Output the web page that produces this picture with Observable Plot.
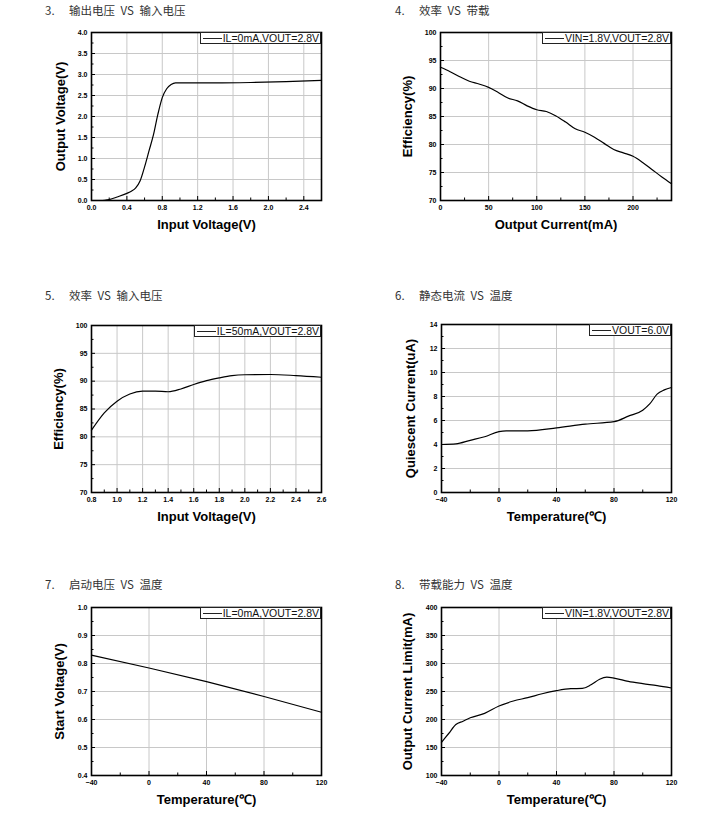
<!DOCTYPE html>
<html><head><meta charset="utf-8">
<script src="https://cdn.jsdelivr.net/npm/d3@7"></script>
<script src="https://cdn.jsdelivr.net/npm/@observablehq/plot@0.6"></script>
<style>
body{margin:0;background:#fff;}
#root{position:relative;width:723px;height:836px;overflow:hidden;font-family:"Liberation Sans",Arial,sans-serif;}
.title{position:absolute;font-family:"Noto Sans CJK SC",sans-serif;font-size:11.5px;color:#333;line-height:14px;white-space:pre;word-spacing:3px;}
.legend{position:absolute;box-sizing:border-box;border:1px solid #222;background:#fff;font-size:10.5px;height:12px;display:flex;align-items:center;padding:0 1px 0 2px;white-space:nowrap;color:#111;}
.legend .sw{display:inline-block;width:19px;border-top:1.4px solid #222;margin-right:1px;}
svg{position:absolute;}
</style></head><body><div id="root"></div><script>
// ---- Chart 3: Output voltage vs input voltage ----
const c3Vin  = [0,0.1,0.15,0.2,0.3,0.4,0.45,0.5,0.55,0.6,0.65,0.7,0.75,0.8,0.85,0.9,0.95,1.0,1.4,1.8,2.2,2.6];
const c3Vout = [0,0,0.005,0.02,0.09,0.17,0.22,0.3,0.47,0.8,1.18,1.56,2.05,2.45,2.66,2.76,2.8,2.8,2.8,2.81,2.83,2.86];
// ---- Chart 4: Efficiency vs load ----
const c4Iout = [0,10,20,30,40,50,60,70,80,90,100,110,120,130,140,150,160,170,180,190,200,210,220,230,240];
const c4Eff  = [93.8,93.0,92.1,91.3,90.8,90.2,89.3,88.3,87.8,86.9,86.2,85.9,85.1,84.0,82.8,82.2,81.3,80.2,79.1,78.5,77.9,76.8,75.5,74.2,73.0];
// ---- Chart 5: Efficiency vs input voltage ----
const c5Vin = [0.8,0.9,1.0,1.1,1.2,1.3,1.4,1.5,1.6,1.7,1.8,1.9,2.0,2.2,2.4,2.6];
const c5Eff = [81.2,84.3,86.4,87.7,88.2,88.2,88.1,88.6,89.4,90.1,90.6,91.0,91.15,91.2,91.0,90.7];
// ---- Chart 6: Quiescent current vs temperature ----
const c6Temp = [-40,-30,-20,-10,0,5,20,40,60,80,90,100,105,110,115,120];
const c6Iq   = [4.0,4.05,4.35,4.65,5.08,5.14,5.14,5.38,5.7,5.9,6.36,6.86,7.4,8.2,8.55,8.75];
// ---- Chart 7: Start voltage vs temperature ----
const c7Temp = [-40,0,40,80,120];
const c7Vst  = [0.830,0.784,0.735,0.682,0.626];
// ---- Chart 8: Output current limit vs temperature ----
const c8Temp = [-40,-35,-30,-25,-20,-10,0,10,20,30,40,50,58,64,70,75,80,90,100,110,120];
const c8Ilim = [159,175,191,197,203,211,224,233,239,246,251.5,255,255.5,262,272,275.5,274,268,264,260.5,256.3];

// ---- tick labels ----
const tVin26   = [0,0.4,0.8,1.2,1.6,2.0,2.4];
const tVin26m  = [0.2,0.6,1.0,1.4,1.8,2.2,2.6];
const tVout    = [0,0.5,1,1.5,2,2.5,3,3.5,4];
const tVoutm   = [0.25,0.75,1.25,1.75,2.25,2.75,3.25,3.75];
const tIout    = [0,50,100,150,200];
const tIoutm   = [25,75,125,175,225];
const tEff     = [70,75,80,85,90,95,100];
const tEffm    = [72.5,77.5,82.5,87.5,92.5,97.5];
const tVin8    = [0.8,1.0,1.2,1.4,1.6,1.8,2.0,2.2,2.4,2.6];
const tVin8m   = [0.9,1.1,1.3,1.5,1.7,1.9,2.1,2.3,2.5];
const tTemp    = [-40,0,40,80,120];
const tTempm   = [-20,20,60,100];
const tIq      = [0,2,4,6,8,10,12,14];
const tIqm     = [1,3,5,7,9,11,13];
const tVst     = [0.4,0.5,0.6,0.7,0.8,0.9,1.0];
const tVstm    = [0.45,0.55,0.65,0.75,0.85,0.95];
const tIlim    = [100,150,200,250,300,350,400];
const tIlimm   = [125,175,225,275,325,375];

const f1 = d3.format(".1f"), f0 = d3.format("d");
const root = document.getElementById("root");
const zip = (xs, ys) => xs.map((x, i) => ({x, y: ys[i]}));

function panel(c) {
  const [L, T, R, B] = c.frame;
  const ml = 60, mt = 10, mr = 10, mb = 40;
  const iw = R - L, ih = B - T;
  const svg = Plot.plot({
    width: iw + ml + mr, height: ih + mt + mb,
    marginLeft: ml, marginTop: mt, marginRight: mr, marginBottom: mb,
    x: {domain: c.xDomain}, y: {domain: c.yDomain},
    style: {fontFamily: '"Liberation Sans", Arial, sans-serif', background: "transparent", overflow: "visible", color: "#000"},
    marks: [
      Plot.gridX(c.xMaj, {stroke: "#c8c8c8", strokeOpacity: 1, strokeWidth: 1}),
      Plot.gridY(c.yMaj, {stroke: "#c8c8c8", strokeOpacity: 1, strokeWidth: 1}),
      Plot.tickX(c.xMaj, {x: d => d, insetTop: ih - 4, stroke: "#000"}),
      Plot.tickX(c.xMin, {x: d => d, insetTop: ih - 2.5, stroke: "#000"}),
      Plot.tickY(c.yMaj, {y: d => d, insetRight: iw - 4, stroke: "#000"}),
      Plot.tickY(c.yMin, {y: d => d, insetRight: iw - 2.5, stroke: "#000"}),
      Plot.line(zip(c.xs, c.ys), {x: "x", y: "y", curve: "monotone-x", stroke: "#000", strokeWidth: 1.2}),
      Plot.frame({stroke: "#000", strokeWidth: 1.6}),
      Plot.axisX(c.xMaj, {tickSize: 0, tickPadding: 5, tickFormat: c.xFmt, fontSize: 7, fontWeight: "bold", label: null}),
      Plot.axisY(c.yMaj, {tickSize: 0, tickPadding: 4, tickFormat: c.yFmt, fontSize: 7, fontWeight: "bold", label: null}),
      Plot.text([c.xLabel], {frameAnchor: "bottom", dy: 24, text: d => d, fontSize: 13, fontWeight: "bold", textAnchor: "middle", lineAnchor: "middle"}),
      Plot.text([c.yLabel], {frameAnchor: "left", dx: c.yDx, rotate: -90, text: d => d, fontSize: 13, fontWeight: "bold", textAnchor: "middle", lineAnchor: "middle"})
    ]
  });
  svg.style.left = (L - ml) + "px";
  svg.style.top = (T - mt) + "px";
  root.appendChild(svg);

  const lg = document.createElement("div");
  lg.className = "legend";
  lg.style.right = (723 - R) + "px";
  lg.style.top = T + "px";
  lg.innerHTML = '<span class="sw"></span><span></span>';
  lg.lastChild.textContent = c.legend;
  root.appendChild(lg);

  const n = document.createElement("div");
  n.className = "title";
  n.style.left = c.numX + "px"; n.style.top = (c.titleY - 7) + "px";
  n.textContent = c.num;
  root.appendChild(n);
  const t = document.createElement("div");
  t.className = "title";
  t.style.left = (c.numX + 24) + "px"; t.style.top = (c.titleY - 7) + "px";
  t.textContent = c.title;
  root.appendChild(t);
}

panel({frame: [91, 32, 321, 200], xDomain: [0, 2.6], yDomain: [0, 4], xMaj: tVin26, xMin: tVin26m, yMaj: tVout, yMin: tVoutm,
  xFmt: f1, yFmt: f1, xs: c3Vin, ys: c3Vout, xLabel: "Input Voltage(V)", yLabel: "Output Voltage(V)", yDx: -31,
  legend: "IL=0mA,VOUT=2.8V", num: "3.", title: "输出电压 VS 输入电压", numX: 45, titleY: 10});
panel({frame: [440, 32, 671, 200], xDomain: [0, 240], yDomain: [70, 100], xMaj: tIout, xMin: tIoutm, yMaj: tEff, yMin: tEffm,
  xFmt: f0, yFmt: f0, xs: c4Iout, ys: c4Eff, xLabel: "Output Current(mA)", yLabel: "Efficiency(%)", yDx: -33,
  legend: "VIN=1.8V,VOUT=2.8V", num: "4.", title: "效率 VS 带载", numX: 395, titleY: 10});
panel({frame: [91, 325, 321, 492], xDomain: [0.8, 2.6], yDomain: [70, 100], xMaj: tVin8, xMin: tVin8m, yMaj: tEff, yMin: tEffm,
  xFmt: f1, yFmt: f0, xs: c5Vin, ys: c5Eff, xLabel: "Input Voltage(V)", yLabel: "Efficiency(%)", yDx: -33,
  legend: "IL=50mA,VOUT=2.8V", num: "5.", title: "效率 VS 输入电压", numX: 45, titleY: 295});
panel({frame: [441, 324, 671, 492], xDomain: [-40, 120], yDomain: [0, 14], xMaj: tTemp, xMin: tTempm, yMaj: tIq, yMin: tIqm,
  xFmt: f0, yFmt: f0, xs: c6Temp, ys: c6Iq, xLabel: "Temperature(℃)", yLabel: "Quiescent Current(uA)", yDx: -31,
  legend: "VOUT=6.0V", num: "6.", title: "静态电流 VS 温度", numX: 395, titleY: 295});
panel({frame: [91, 607, 321, 775], xDomain: [-40, 120], yDomain: [0.4, 1.0], xMaj: tTemp, xMin: tTempm, yMaj: tVst, yMin: tVstm,
  xFmt: f0, yFmt: f1, xs: c7Temp, ys: c7Vst, xLabel: "Temperature(℃)", yLabel: "Start Voltage(V)", yDx: -32,
  legend: "IL=0mA,VOUT=2.8V", num: "7.", title: "启动电压 VS 温度", numX: 45, titleY: 584});
panel({frame: [441, 607, 671, 775], xDomain: [-40, 120], yDomain: [100, 400], xMaj: tTemp, xMin: tTempm, yMaj: tIlim, yMin: tIlimm,
  xFmt: f0, yFmt: f0, xs: c8Temp, ys: c8Ilim, xLabel: "Temperature(℃)", yLabel: "Output Current Limit(mA)", yDx: -34,
  legend: "VIN=1.8V,VOUT=2.8V", num: "8.", title: "带载能力 VS 温度", numX: 395, titleY: 584});
</script></body></html>
